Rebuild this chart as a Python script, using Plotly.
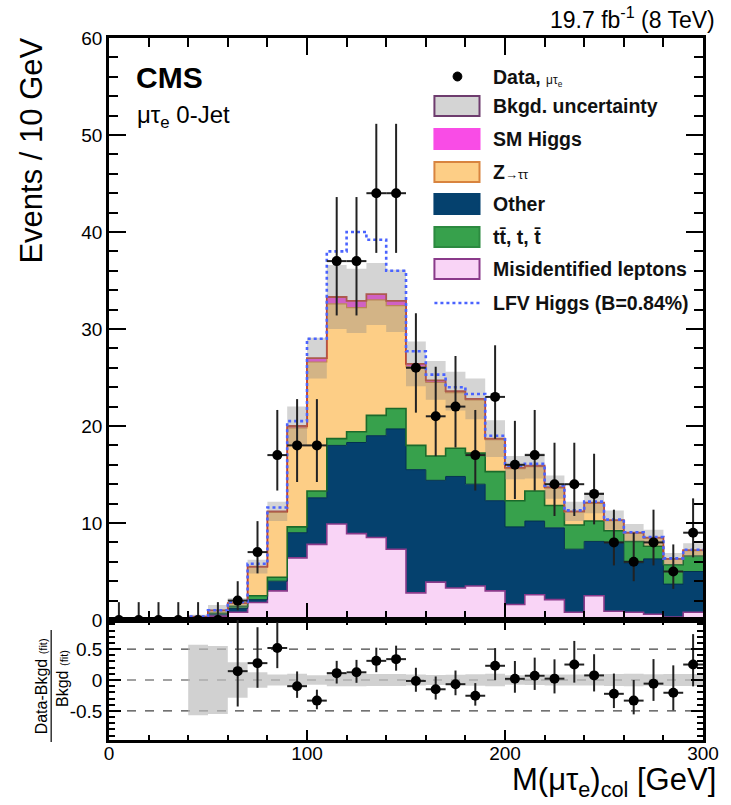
import numpy as np
import plotly.graph_objects as go

# ---------------- binning (10 GeV bins from 0 to 300 GeV) ----------------
bin_edges = list(range(0, 310, 10))
bin_centers = [e + 5 for e in bin_edges[:-1]]

# ---------------- observed events per bin ----------------
data_counts = [0, 0, 0, 0, 0, 0, 2, 7, 17, 18,
               18, 37, 37, 44, 44, 26, 21, 22, 17, 23,
               16, 17, 14, 14, 13, 8, 6, 8, 5, 9]

# ---------------- background expectations per bin ----------------
misid_leptons = [0, 0, 0, 0, 0.15, 0.4, 0.8, 1.8, 3.0, 6.4,
                 7.8, 9.9, 8.9, 8.5, 7.3, 2.8, 3.9, 3.3, 3.5, 3.0,
                 1.6, 2.6, 2.1, 0.8, 2.5, 0.9, 0.8, 0.6, 0.3, 0.8]
other_bkg = [0, 0, 0, 0, 0.05, 0.2, 0.4, 0.3, 1.0, 2.6,
             4.8, 8.1, 9.4, 10.5, 12.4, 12.7, 10.5, 11.5, 10.5, 9.3,
             8.0, 7.6, 7.4, 6.5, 5.6, 7.1, 5.1, 5.7, 3.4, 4.2]
top_bkg = [0, 0, 0, 0, 0, 0.1, 0.2, 0.4, 0.4, 0.6,
           0.7, 0.7, 1.1, 2.1, 2.1, 2.5, 2.5, 2.9, 3.2, 3.0,
           2.7, 3.1, 2.3, 2.5, 2.1, 1.2, 2.2, 1.3, 2.0, 1.6]
ztautau = [0, 0, 0, 0, 0.15, 0.3, 0.35, 2.95, 6.7, 10.2,
           13.3, 13.9, 12.8, 11.9, 10.6, 8.1, 7.6, 5.75, 5.5, 3.3,
           3.3, 2.5, 1.8, 1.35, 1.85, 1.05, 0.85, 0.85, 0.55, 0.55]
sm_higgs = [0, 0, 0, 0, 0, 0, 0, 0.05, 0.1, 0.2,
            0.4, 0.7, 0.7, 0.6, 0.5, 0.3, 0.2, 0.15, 0.1, 0.1,
            0.1, 0.1, 0.1, 0.05, 0.05, 0.05, 0.05, 0.05, 0.05, 0.05]
bkg_unc = [0, 0, 0, 0, 0.2, 0.55, 0.5, 0.7, 1.0, 2.0,
           2.1, 3.3, 3.3, 3.2, 3.2, 2.3, 2.0, 2.0, 2.1, 1.9,
           1.2, 1.3, 1.2, 1.0, 1.1, 1.0, 0.9, 0.8, 0.6, 0.7]

# ---------------- LFV Higgs signal (B = 0.84%) ----------------
lfv_signal = [0, 0, 0, 0, 0, 0, 0.1, 0.3, 0.4, 0.5,
              2.0, 4.7, 7.1, 5.6, 3.1, 1.3, 0.6, 0.4, 0.5, 0.3,
              0.2, 0.2, 0.15, 0.1, 0.1, 0.05, 0.05, 0.05, 0.05, 0.05]

# ---------------- derived quantities ----------------
counts = np.array(data_counts, dtype=float)
total_bkg = (np.array(misid_leptons) + np.array(other_bkg) + np.array(top_bkg)
             + np.array(ztautau) + np.array(sm_higgs))
unc = np.array(bkg_unc)
root = np.sqrt(counts + 0.25)
err_hi = np.where(counts > 0, root + 0.5, 1.84)
err_lo = np.where(counts > 0, root - 0.5, 0.0)


def step(vals):
    v = [float(a) for a in vals]
    return v + [v[-1]]


FONT = "Liberation Sans, Arial, Helvetica, sans-serif"
W, H = 731, 805
ML, MR, MT, MB = 109, 16, 38, 65
PW, PH = W - ML - MR, H - MT - MB
SPLIT = 120 / PH


def xp(px):
    return (px - ML) / PW


def yp(py):
    return (H - MB - py) / PH


fig = go.Figure()

# stacked backgrounds, bottom to top
layers = [
    ("Misidentified leptons", misid_leptons, "#F9D4F6", "#8A3A8A", 1.6),
    ("Other", other_bkg, "#05416E", "#03304F", 1.0),
    ("tt", top_bkg, "#37A14C", "#1B6A2B", 1.6),
    ("Z->tautau", ztautau, "#FDCE86", "#D8843F", 1.2),
    ("SM Higgs", sm_higgs, "#F94CE6", "#C0402E", 1.8),
]
for name, vals, fc, lc, lw in layers:
    fig.add_trace(go.Scatter(
        x=bin_edges, y=step(vals), name=name, stackgroup="bkg",
        mode="lines", line=dict(shape="hv", color=lc, width=lw),
        fillcolor=fc, showlegend=False, hoverinfo="skip",
        xaxis="x", yaxis="y"))

# background uncertainty band
fig.add_trace(go.Scatter(
    x=bin_edges, y=step(total_bkg - unc), mode="lines",
    line=dict(shape="hv", width=0, color="rgba(0,0,0,0)"),
    showlegend=False, hoverinfo="skip", xaxis="x", yaxis="y"))
fig.add_trace(go.Scatter(
    x=bin_edges, y=step(total_bkg + unc), mode="lines", fill="tonexty",
    fillcolor="rgba(135,135,135,0.36)",
    line=dict(shape="hv", width=0, color="rgba(0,0,0,0)"),
    showlegend=False, hoverinfo="skip", xaxis="x", yaxis="y"))

# LFV Higgs on top of the background sum
fig.add_trace(go.Scatter(
    x=bin_edges, y=step(total_bkg + np.array(lfv_signal)), mode="lines",
    line=dict(shape="hv", color="#4A63FF", width=2.6, dash="dot"),
    showlegend=False, hoverinfo="skip", xaxis="x", yaxis="y"))

# observed data
fig.add_trace(go.Scatter(
    x=bin_centers, y=data_counts, mode="markers",
    marker=dict(color="black", size=10),
    error_y=dict(type="data", symmetric=False, array=err_hi, arrayminus=err_lo,
                 color="#222", thickness=2, width=0),
    error_x=dict(type="constant", value=5, color="#222", thickness=2, width=0),
    showlegend=False, hoverinfo="skip", xaxis="x", yaxis="y"))

# ---------------- ratio panel ----------------
first_band = 4
rel_unc = unc[first_band:] / total_bkg[first_band:]
fig.add_trace(go.Scatter(
    x=bin_edges[first_band:], y=step(-rel_unc), mode="lines",
    line=dict(shape="hv", width=0, color="rgba(0,0,0,0)"),
    showlegend=False, hoverinfo="skip", xaxis="x2", yaxis="y2"))
fig.add_trace(go.Scatter(
    x=bin_edges[first_band:], y=step(rel_unc), mode="lines", fill="tonexty",
    fillcolor="rgba(190,190,190,0.7)",
    line=dict(shape="hv", width=0, color="rgba(0,0,0,0)"),
    showlegend=False, hoverinfo="skip", xaxis="x2", yaxis="y2"))

sel = counts > 0
ratio = counts[sel] / total_bkg[sel] - 1.0
fig.add_trace(go.Scatter(
    x=np.array(bin_centers)[sel], y=ratio, mode="markers",
    marker=dict(color="black", size=10),
    error_y=dict(type="data", symmetric=False,
                 array=err_hi[sel] / total_bkg[sel],
                 arrayminus=err_lo[sel] / total_bkg[sel],
                 color="#222", thickness=2, width=0),
    error_x=dict(type="constant", value=5, color="#222", thickness=2, width=0),
    showlegend=False, hoverinfo="skip", xaxis="x2", yaxis="y2", cliponaxis=True))

shapes = []
for lvl in (0.5, 0.0, -0.5):
    shapes.append(dict(type="line", xref="x2", yref="y2", x0=0, x1=300, y0=lvl, y1=lvl,
                       line=dict(color="#444", width=1.2, dash="dash"), layer="below"))

# ---------------- legend ----------------
legend_rows = [
    (106, "<b>Bkgd. uncertainty</b>", "#D4D4D4", "#6E3C6E"),
    (139, "<b>SM Higgs</b>", "#F94CE6", "#F94CE6"),
    (172, "<b>Z</b><span style='font-size:13px'>→ττ</span>", "#FDCE86", "#D8843F"),
    (204, "<b>Other</b>", "#05416E", "#05416E"),
    (237, "<b>tt\u0304, t, t\u0304</b>", "#37A14C", "#2C8A40"),
    (269, "<b>Misidentified leptons</b>", "#F9D4F6", "#8A3A8A"),
]
annotations = []
LEG_FONT = dict(family=FONT, size=19.5, color="#111")
for yc, txt, fc, lc in legend_rows:
    shapes.append(dict(type="rect", xref="paper", yref="paper",
                       x0=xp(441), x1=xp(487), y0=yp(yc + 10), y1=yp(yc - 10),
                       fillcolor=fc, line=dict(color=lc, width=2)))
    annotations.append(dict(x=xp(499), y=yp(yc), xref="paper", yref="paper",
                            text=txt, showarrow=False, xanchor="left",
                            yanchor="middle", font=LEG_FONT))
shapes.append(dict(type="circle", xref="paper", yref="paper",
                   x0=xp(460), x1=xp(469), y0=yp(81), y1=yp(72),
                   fillcolor="black", line=dict(color="black", width=1)))
annotations.append(dict(x=xp(499), y=yp(77), xref="paper", yref="paper",
                        text="<b>Data, </b><span style='font-size:12px'>μτ<sub>e</sub></span>",
                        showarrow=False, xanchor="left", yanchor="middle", font=LEG_FONT))
shapes.append(dict(type="line", xref="paper", yref="paper",
                   x0=xp(441), x1=xp(487), y0=yp(303), y1=yp(303),
                   line=dict(color="#4A63FF", width=2.6, dash="dot")))
annotations.append(dict(x=xp(499), y=yp(303), xref="paper", yref="paper",
                        text="<b>LFV Higgs (B=0.84%)</b>",
                        showarrow=False, xanchor="left", yanchor="middle", font=LEG_FONT))

# ---------------- labels ----------------
annotations += [
    dict(x=xp(135), y=yp(77), xref="paper", yref="paper", text="<b>CMS</b>",
         showarrow=False, xanchor="left", yanchor="middle",
         font=dict(family=FONT, size=30, color="black")),
    dict(x=xp(136), y=yp(116), xref="paper", yref="paper", text="μτ<sub>e</sub> 0-Jet",
         showarrow=False, xanchor="left", yanchor="middle",
         font=dict(family=FONT, size=24, color="black")),
    dict(x=xp(729), y=yp(18), xref="paper", yref="paper",
         text="19.7 fb<sup>-1</sup> (8 TeV)", showarrow=False,
         xanchor="right", yanchor="middle",
         font=dict(family=FONT, size=23, color="black")),
    dict(x=xp(30), y=yp(36), xref="paper", yref="paper", text="Events / 10 GeV",
         textangle=-90, showarrow=False, xanchor="center", yanchor="top",
         font=dict(family=FONT, size=31, color="black")),
    dict(x=xp(730), y=yp(804), xref="paper", yref="paper",
         text="M(μτ<sub>e</sub>)<sub>col</sub> [GeV]", showarrow=False,
         xanchor="right", yanchor="bottom",
         font=dict(family=FONT, size=31, color="black")),
    dict(x=xp(40), y=yp(686), xref="paper", yref="paper",
         text="Data-Bkgd <span style='font-size:11px'>(fit)</span>",
         textangle=-90, showarrow=False, xanchor="center", yanchor="middle",
         font=dict(family=FONT, size=16, color="black")),
    dict(x=xp(61), y=yp(678), xref="paper", yref="paper",
         text="Bkgd <span style='font-size:11px'>(fit)</span>",
         textangle=-90, showarrow=False, xanchor="center", yanchor="middle",
         font=dict(family=FONT, size=16, color="black")),
]
shapes.append(dict(type="line", xref="paper", yref="paper",
                   x0=xp(50), x1=xp(50), y0=yp(630), y1=yp(742),
                   line=dict(color="black", width=1.2)))

axis_style = dict(showline=True, linewidth=2.5, linecolor="black", mirror="allticks",
                  ticks="inside", tickcolor="black", tickwidth=2,
                  showgrid=False, zeroline=False,
                  tickfont=dict(family=FONT, size=19, color="black"))

fig.update_layout(
    width=W, height=H,
    margin=dict(l=ML, r=MR, t=MT, b=MB),
    paper_bgcolor="white", plot_bgcolor="white",
    showlegend=False,
    font=dict(family=FONT, color="black"),
    xaxis=dict(domain=[0, 1], range=[0, 300], anchor="y", dtick=100, ticklen=17,
               showticklabels=False, matches="x2",
               minor=dict(dtick=20, ticklen=9, ticks="inside", tickcolor="black", tickwidth=1.5),
               **axis_style),
    yaxis=dict(domain=[SPLIT, 1], range=[0, 60], anchor="x", dtick=10, ticklen=17,
               minor=dict(dtick=2, ticklen=9, ticks="inside", tickcolor="black", tickwidth=1.5),
               **axis_style),
    xaxis2=dict(domain=[0, 1], range=[0, 300], anchor="y2", dtick=100, ticklen=10,
                ticklabelstandoff=-6,
                minor=dict(dtick=20, ticklen=5, ticks="inside", tickcolor="black", tickwidth=1.5),
                **axis_style),
    yaxis2=dict(domain=[0, SPLIT], range=[-0.97, 0.97], anchor="x2",
                tickvals=[-0.5, 0, 0.5], ticktext=["-0.5", "0", "0.5"], ticklen=12,
                minor=dict(dtick=0.1, ticklen=6, ticks="inside", tickcolor="black", tickwidth=1.5),
                **axis_style),
    shapes=shapes,
    annotations=annotations,
)

fig.write_html("out.html")
